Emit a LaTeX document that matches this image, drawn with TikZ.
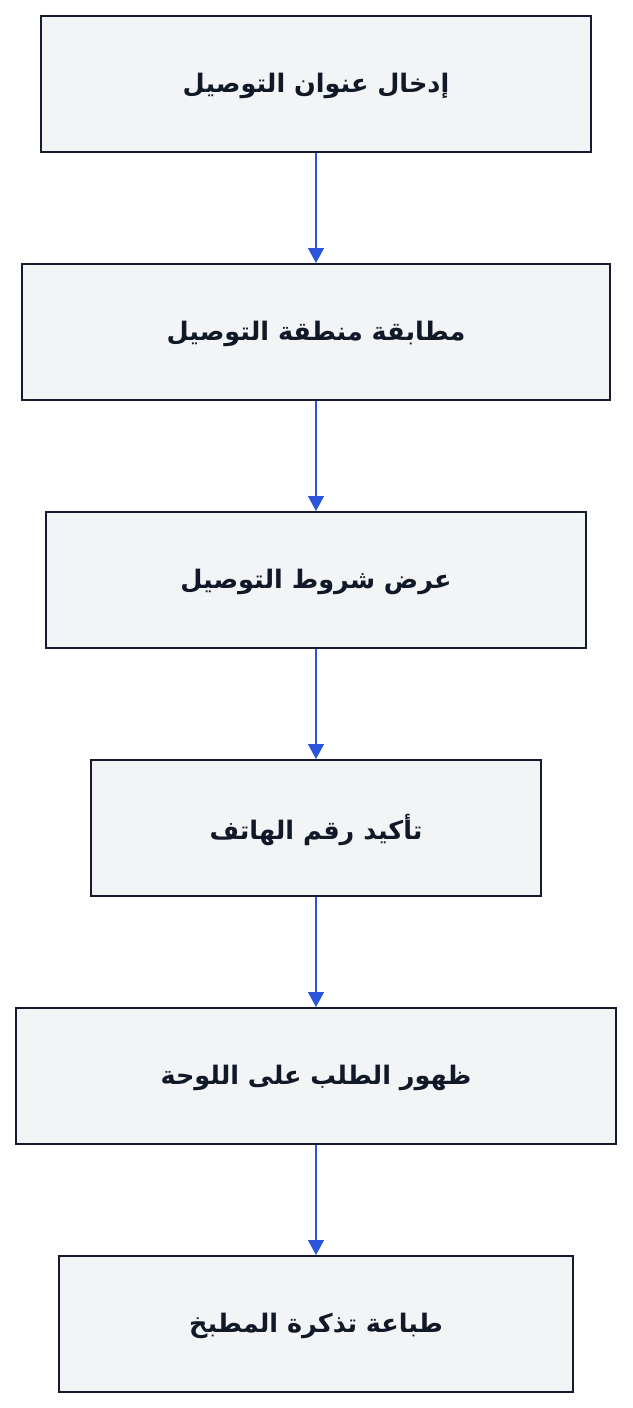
\documentclass[tikz,border=0pt]{standalone}
\usepackage{fontspec}
\TeXXeTstate=1
\newfontfamily\arabicfont[Script=Arabic]{DejaVu Sans}
\usetikzlibrary{arrows.meta}
\definecolor{boxfill}{HTML}{F3F4F6}
\definecolor{boxline}{HTML}{161B2E}
\definecolor{arrowblue}{HTML}{2B55DB}
\definecolor{txt}{HTML}{111827}
\begin{document}
\begin{tikzpicture}[x=1pt,y=-1pt,
  stepbox/.style={draw=boxline,fill=boxfill,line width=2pt,inner sep=0pt,anchor=north west},
  label/.style={font=\arabicfont\bfseries\fontsize{25.5}{30}\selectfont,text=txt},
  flow/.style={draw=arrowblue,line width=1.5pt,-{Triangle[length=15pt,width=16pt]}}]
\useasboundingbox (0,0) rectangle (632,1408);
\fill[white] (0,0) rectangle (632,1408);
\node[stepbox,minimum width=550pt,minimum height=136pt] (b1) at (40,15) {};
\node[stepbox,minimum width=588pt,minimum height=136pt] (b2) at (21,263) {};
\node[stepbox,minimum width=540pt,minimum height=136pt] (b3) at (45,511) {};
\node[stepbox,minimum width=450pt,minimum height=136pt] (b4) at (90,759) {};
\node[stepbox,minimum width=600pt,minimum height=136pt] (b5) at (15,1007) {};
\node[stepbox,minimum width=514pt,minimum height=136pt] (b6) at (58,1255) {};
\node[label] (t1) at ([yshift=-2pt]b1.center) {\beginR إدخال عنوان التوصيل\endR};
\node[label] (t2) at ([yshift=-2pt]b2.center) {\beginR مطابقة منطقة التوصيل\endR};
\node[label] (t3) at ([yshift=-2pt]b3.center) {\beginR عرض شروط التوصيل\endR};
\node[label] (t4) at ([yshift=-2pt]b4.center) {\beginR تأكيد رقم الهاتف\endR};
\node[label] (t5) at ([yshift=-2pt]b5.center) {\beginR ظهور الطلب على اللوحة\endR};
\node[label] (t6) at ([yshift=-2pt]b6.center) {\beginR طباعة تذكرة المطبخ\endR};
\draw[flow] (b1.south) -- (b2.north);
\draw[flow] (b2.south) -- (b3.north);
\draw[flow] (b3.south) -- (b4.north);
\draw[flow] (b4.south) -- (b5.north);
\draw[flow] (b5.south) -- (b6.north);
\end{tikzpicture}
\end{document}
